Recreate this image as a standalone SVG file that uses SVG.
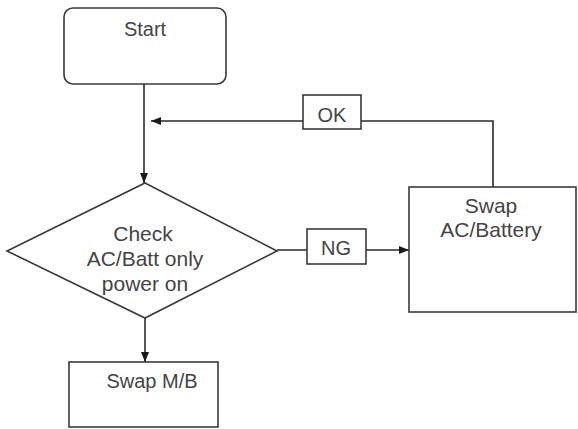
<svg xmlns="http://www.w3.org/2000/svg" width="578" height="429" viewBox="0 0 578 429">
<style>
.shape{fill:#fff;stroke:#3a3a3a;stroke-width:1.6}
.line{fill:none;stroke:#2a2a2a;stroke-width:1.6}
text{font-family:"Liberation Sans",Arial,sans-serif;font-size:20px;fill:#444;text-anchor:middle}
.big{font-size:21px}
</style>
<defs>
<marker id="arr" viewBox="0 0 10 8" refX="10" refY="4" markerWidth="10" markerHeight="8" markerUnits="userSpaceOnUse" orient="auto">
<path d="M0,0 L10,4 L0,8 Z" fill="#1a1a1a"/>
</marker>
</defs>
<rect width="578" height="429" fill="#fff"/>
<g id="connectors">
<line class="line" x1="144" y1="84" x2="144" y2="183" marker-end="url(#arr)"/>
<line class="line" x1="145" y1="318" x2="145" y2="362" marker-end="url(#arr)"/>
<polyline class="line" points="277,250 409,250" marker-end="url(#arr)"/>
<polyline class="line" points="493,187 493,121 151,121" marker-end="url(#arr)"/>
</g>
<g id="start">
<rect class="shape" x="64" y="8" width="162" height="76" rx="9"/>
<text x="145" y="36">Start</text>
</g>
<g id="check">
<polygon class="shape" points="145,183 277,251 145,318 7,251"/>
<text class="big" x="143" y="241">Check</text>
<text class="big" x="145" y="266">AC/Batt only</text>
<text class="big" x="145" y="291">power on</text>
</g>
<g id="ok">
<rect class="shape" x="303" y="95" width="58" height="34"/>
<text x="332" y="122">OK</text>
</g>
<g id="ng">
<rect class="shape" x="307" y="229" width="59" height="35"/>
<text x="336" y="255">NG</text>
</g>
<g id="swap-ac">
<rect class="shape" x="409" y="187" width="167" height="125"/>
<text class="big" x="491" y="213">Swap</text>
<text class="big" x="491" y="237">AC/Battery</text>
</g>
<g id="swap-mb">
<rect class="shape" x="69" y="362" width="149" height="65"/>
<text x="152" y="388">Swap M/B</text>
</g>
</svg>
